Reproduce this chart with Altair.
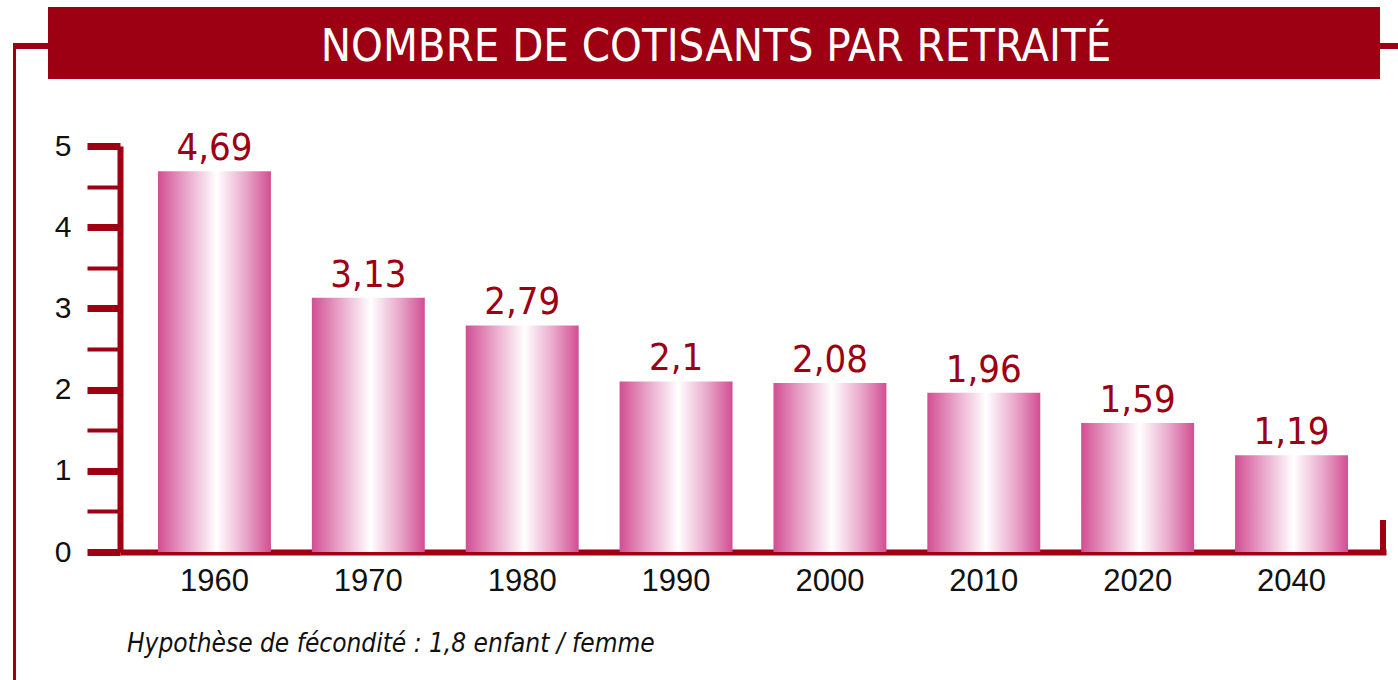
import altair as alt
import pandas as pd

years = ["1960", "1970", "1980", "1990", "2000", "2010", "2020", "2040"]
values = [4.69, 3.13, 2.79, 2.10, 2.08, 1.96, 1.59, 1.19]
y_ticks = [0, 0.5, 1, 1.5, 2, 2.5, 3, 3.5, 4, 4.5, 5]
title_text = "NOMBRE DE COTISANTS PAR RETRAITÉ"
note_text = "Hypothèse de fécondité : 1,8 enfant / femme"

RED = "#9C0012"
NARROW = "DejaVu Sans Condensed, Liberation Sans Narrow, sans-serif"

df = pd.DataFrame({"year": years, "value": values})
one = pd.DataFrame({"k": [0]})

grad = alt.LinearGradient(
    gradient="linear",
    x1=0, x2=1, y1=0, y2=0,
    stops=[
        alt.GradientStop(color="#D24E93", offset=0),
        alt.GradientStop(color="#E9A6CA", offset=0.25),
        alt.GradientStop(color="#FFFFFF", offset=0.52),
        alt.GradientStop(color="#E9A6CA", offset=0.78),
        alt.GradientStop(color="#D24E93", offset=1),
    ],
)

x_enc = alt.X(
    "year:N",
    sort=years,
    scale=alt.Scale(paddingInner=0.266, paddingOuter=0.247),
    axis=alt.Axis(
        title=None,
        ticks=False,
        labelAngle=0,
        labelFont="Liberation Sans, Arial, sans-serif",
        labelFontSize=31,
        labelColor="#111111",
        labelPadding=14,
        domainColor=RED,
        domainWidth=6,
    ),
)
y_enc = alt.Y(
    "value:Q",
    scale=alt.Scale(domain=[0, 5], nice=False, zero=True),
    axis=alt.Axis(
        title=None,
        values=y_ticks,
        labelExpr="datum.value % 1 == 0 ? format(datum.value, 'd') : ''",
        labelFont="Liberation Sans, Arial, sans-serif",
        labelFontSize=30,
        labelColor="#111111",
        labelPadding=16,
        tickColor=RED,
        tickSize=33,
        tickWidth={"condition": {"test": "datum.value % 1 == 0", "value": 7}, "value": 4},
        domainColor=RED,
        domainWidth=6,
        grid=False,
    ),
)

bars = alt.Chart(df).mark_bar(color=grad).encode(x=x_enc, y=y_enc)

labels = (
    alt.Chart(df)
    .transform_calculate(lbl="replace(toString(datum.value), '.', ',')")
    .mark_text(font=NARROW, fontSize=38, color=RED, baseline="alphabetic", dy=-11)
    .encode(x=alt.X("year:N", sort=years), y="value:Q", text="lbl:N")
)

banner = alt.Chart(one).mark_rect(color=RED).encode(
    x=alt.value(-72), x2=alt.value(1260), y=alt.value(-139), y2=alt.value(-67)
)
title = alt.Chart(one).mark_text(
    text=title_text, font=NARROW, fontSize=45, color="white", align="center", baseline="alphabetic"
).encode(x=alt.value(596), y=alt.value(-85))

frame_v = alt.Chart(one).mark_rule(color=RED, strokeWidth=3).encode(
    x=alt.value(-105.5), y=alt.value(-103), y2=alt.value(540)
)
frame_hl = alt.Chart(one).mark_rule(color=RED, strokeWidth=6).encode(
    x=alt.value(-107), x2=alt.value(-72), y=alt.value(-100)
)
frame_hr = alt.Chart(one).mark_rule(color=RED, strokeWidth=6).encode(
    x=alt.value(1260), x2=alt.value(1280), y=alt.value(-100)
)
stub = alt.Chart(one).mark_rule(color=RED, strokeWidth=6).encode(
    x=alt.value(1263), y=alt.value(374), y2=alt.value(409)
)
note = alt.Chart(one).mark_text(
    text=note_text, font=NARROW, fontSize=26, fontStyle="italic", color="#111111",
    align="left", baseline="alphabetic"
).encode(x=alt.value(7), y=alt.value(506))

chart = (
    alt.layer(frame_v, frame_hl, frame_hr, banner, title, bars, labels, stub, note)
    .properties(
        width=1266,
        height=406,
        padding={"left": 120, "top": 146, "right": 12, "bottom": 128},
        autosize=alt.AutoSizeParams(type="none"),
        background="white",
    )
    .configure_view(stroke=None)
)

chart.save("out.html", embed_options={"renderer": "svg", "actions": False})
